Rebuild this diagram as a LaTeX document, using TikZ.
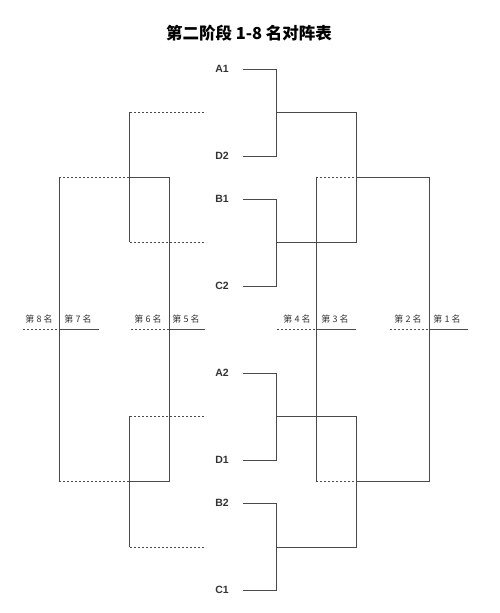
\documentclass[tikz,border=0pt]{standalone}
\usepackage{fontspec}
\setmainfont{Liberation Sans}
\newfontfamily\cjk{Noto Sans CJK SC}
\definecolor{lc}{HTML}{4A4A4A}
\definecolor{tc}{HTML}{333333}
\begin{document}
\begin{tikzpicture}[x=1pt,y=-1pt,
  ln/.style={line width=1pt, draw=lc},
  dsh/.style={line width=1pt, draw=lc, dash pattern=on 2pt off 2pt},
  team/.style={font=\bfseries\fontsize{10.5}{10.5}\selectfont, text=tc, inner sep=0pt},
  rank/.style={font=\cjk\fontsize{9}{9}\selectfont, text=tc, inner sep=0pt}]
\useasboundingbox (0,0) rectangle (500,613);
\node[font=\cjk\bfseries\fontsize{16.5}{16.5}\selectfont, text=black] (title) at (249,33) {第二阶段 1-8 名对阵表};

% teams
\node[team] (A1) at (222,69) {A1};
\node[team] (D2) at (222,156) {D2};
\node[team] (B1) at (222,199) {B1};
\node[team] (C2) at (222,286) {C2};
\node[team] (A2) at (222,373) {A2};
\node[team] (D1) at (222,460) {D1};
\node[team] (B2) at (222,503) {B2};
\node[team] (C1) at (222,590) {C1};

% ranks
\node[rank] (r8) at (39,319) {第 8 名};
\node[rank] (r7) at (78,319) {第 7 名};
\node[rank] (r6) at (148,319) {第 6 名};
\node[rank] (r5) at (186,319) {第 5 名};
\node[rank] (r4) at (297,319) {第 4 名};
\node[rank] (r3) at (335,319) {第 3 名};
\node[rank] (r2) at (408,319) {第 2 名};
\node[rank] (r1) at (447,319) {第 1 名};

% right side coordinates
\coordinate (a1) at (243,69);  \coordinate (a1b) at (276,69);
\coordinate (d2) at (243,156); \coordinate (d2b) at (276,156);
\coordinate (b1) at (243,199); \coordinate (b1b) at (276,199);
\coordinate (c2) at (243,286); \coordinate (c2b) at (276,286);
\coordinate (a2) at (243,373); \coordinate (a2b) at (276,373);
\coordinate (d1) at (243,460); \coordinate (d1b) at (276,460);
\coordinate (b2) at (243,503); \coordinate (b2b) at (276,503);
\coordinate (c1) at (243,590); \coordinate (c1b) at (276,590);
\coordinate (m1) at (276,112); \coordinate (m1e) at (356,112);
\coordinate (m2) at (276,242); \coordinate (m2e) at (356,242);
\coordinate (m3) at (276,416); \coordinate (m3e) at (356,416);
\coordinate (m4) at (276,547); \coordinate (m4e) at (356,547);
\coordinate (s1d) at (316,177); \coordinate (s1) at (356,177); \coordinate (s1e) at (429,177);
\coordinate (s2d) at (316,481); \coordinate (s2) at (356,481); \coordinate (s2e) at (429,481);
\coordinate (r34a) at (277,329); \coordinate (r34b) at (316,329); \coordinate (r34c) at (356,329);
\coordinate (r12a) at (390,329); \coordinate (r12b) at (429,329); \coordinate (r12c) at (468,329);

\draw[ln] (a1) -- (a1b) -- (d2b) -- (d2);
\draw[ln] (b1) -- (b1b) -- (c2b) -- (c2);
\draw[ln] (a2) -- (a2b) -- (d1b) -- (d1);
\draw[ln] (b2) -- (b2b) -- (c1b) -- (c1);
\draw[ln] (m1) -- (m1e) -- (m2e) -- (m2);
\draw[ln] (m3) -- (m3e) -- (m4e) -- (m4);
\draw[ln] (s1) -- (s1e) -- (s2e) -- (s2);
\draw[dsh] (s1d) -- (s1);
\draw[dsh] (s2d) -- (s2);
\draw[ln] (s1d) -- (s2d);
\draw[dsh] (r34a) -- (r34b);
\draw[ln] (r34b) -- (r34c);
\draw[dsh] (r12a) -- (r12b);
\draw[ln] (r12b) -- (r12c);

% left side coordinates
\coordinate (l1a) at (130,112); \coordinate (l1b) at (206,112); \coordinate (l1v) at (129,112);
\coordinate (l2a) at (130,242); \coordinate (l2b) at (206,242); \coordinate (l2v) at (129,242);
\coordinate (l3a) at (130,416); \coordinate (l3b) at (206,416); \coordinate (l3v) at (129,416);
\coordinate (l4a) at (130,547); \coordinate (l4b) at (206,547); \coordinate (l4v) at (129,547);
\coordinate (t1d) at (59,177); \coordinate (t1) at (129,177); \coordinate (t1e) at (169,177);
\coordinate (t2d) at (59,481); \coordinate (t2) at (129,481); \coordinate (t2e) at (169,481);
\coordinate (r78a) at (23,329); \coordinate (r78b) at (59,329); \coordinate (r78c) at (99,329);
\coordinate (r56a) at (131,329); \coordinate (r56b) at (169,329); \coordinate (r56c) at (205,329);

\draw[dsh] (l1a) -- (l1b);
\draw[dsh] (l2a) -- (l2b);
\draw[ln] (l1v) -- (l2v);
\draw[dsh] (l3a) -- (l3b);
\draw[dsh] (l4a) -- (l4b);
\draw[ln] (l3v) -- (l4v);
\draw[dsh] (t1d) -- (t1);
\draw[dsh] (t2d) -- (t2);
\draw[ln] (t1) -- (t1e) -- (t2e) -- (t2);
\draw[ln] (t1d) -- (t2d);
\draw[dsh] (r78a) -- (r78b);
\draw[ln] (r78b) -- (r78c);
\draw[dsh] (r56a) -- (r56b);
\draw[ln] (r56b) -- (r56c);
\end{tikzpicture}
\end{document}
